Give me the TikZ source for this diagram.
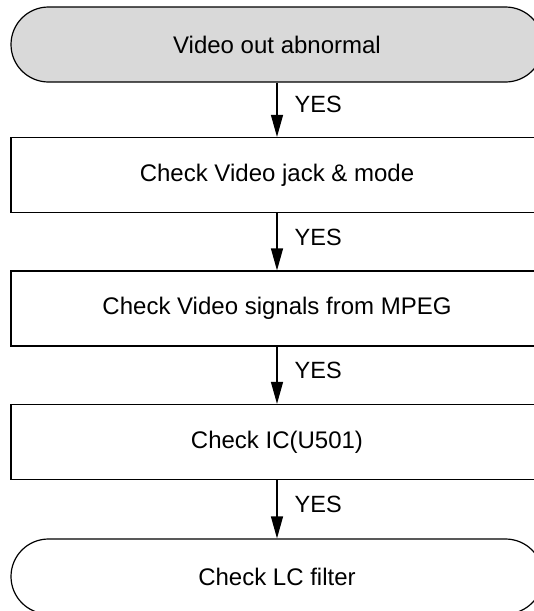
\documentclass[tikz,border=0pt]{standalone}
\usepackage{fontspec}
\setmainfont{Liberation Sans}
\usetikzlibrary{arrows.meta}
\begin{document}
\begin{tikzpicture}[x=1pt,y=-1pt,
  box/.style={draw=black, line width=1.2pt, rectangle, minimum width=532pt, minimum height=75pt, inner sep=0pt, font=\fontsize{24}{29}\selectfont},
  term/.style={box, rounded corners=37.5pt},
  flow/.style={line width=1.3pt, -{Triangle[length=22pt,width=12pt]}},
  yes/.style={anchor=west, inner sep=0pt, xshift=17pt, font=\fontsize{23.5}{28}\selectfont}
]
\useasboundingbox (0,0) rectangle (534,611);
\clip (0,0) rectangle (534,611);
\node[term, fill=black!15] (t1) at (277,44.5) {Video out abnormal};
\node[box] (b1) at (277,175) {Check Video jack \& mode};
\node[box] (b2) at (277,308.5) {Check Video signals from MPEG};
\node[box] (b3) at (277,442) {Check IC(U501)};
\node[term] (t2) at (277,576.5) {Check LC filter};
\draw[flow] (t1) -- node[yes, pos=0.41] {YES} (b1);
\draw[flow] (b1) -- node[yes, pos=0.42] {YES} (b2);
\draw[flow] (b2) -- node[yes, pos=0.42] {YES} (b3);
\draw[flow] (b3) -- node[yes, pos=0.42] {YES} (t2);
\end{tikzpicture}
\end{document}
